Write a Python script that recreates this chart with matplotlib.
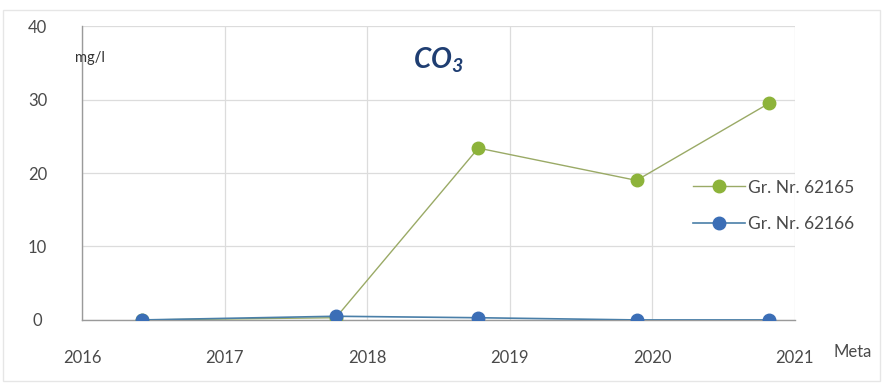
import numpy as np
import matplotlib
matplotlib.use("Agg")
import matplotlib.pyplot as plt

# sampling dates (decimal years) and CO3 concentration, mg/l
years = [2016.42, 2017.78, 2018.78, 2019.89, 2020.82]
gr_62165 = [0.0, 0.3, 23.4, 19.0, 29.5]
gr_62166 = [0.0, 0.5, 0.3, 0.0, 0.0]
xticks = [2016, 2017, 2018, 2019, 2020, 2021]
yticks = [0, 10, 20, 30, 40]

plt.rcParams['font.family'] = ['Lato', 'DejaVu Sans']
plt.rcParams['mathtext.fontset'] = 'custom'
plt.rcParams['mathtext.bfit'] = 'Lato:italic:bold'
plt.rcParams['mathtext.it'] = 'Lato:italic'
plt.rcParams['mathtext.rm'] = 'Lato'

green = '#8db33a'
blue = '#3b6eb6'
text_col = '#4a4a4a'

fig = plt.figure(figsize=(8.83, 3.85), dpi=100)
ax = fig.add_axes([0.093, 0.169, 0.807, 0.763])

ax.plot(years, gr_62165, color='#9aaa66', lw=1.0, marker='o', ms=9,
        mfc=green, mec=green, label='Gr. Nr. 62165', zorder=3)
ax.plot(years, gr_62166, color='#4a7fa8', lw=1.2, marker='o', ms=9,
        mfc=blue, mec=blue, label='Gr. Nr. 62166', zorder=4)

ax.set_xlim(2016, 2021)
ax.set_ylim(0, 40)
ax.set_xticks(xticks)
ax.set_yticks(yticks)
ax.grid(True, color='#dcdcdc', lw=0.9)
ax.set_axisbelow(True)
for s in ['top', 'right']:
    ax.spines[s].set_visible(False)
for s in ['left', 'bottom']:
    ax.spines[s].set_color('#9a9a9a')
    ax.spines[s].set_linewidth(1.0)
ax.tick_params(length=0, labelsize=12, colors=text_col)
ax.tick_params(axis='x', pad=22)
ax.tick_params(axis='y', pad=32)
for lab in ax.get_yticklabels():
    lab.set_horizontalalignment('center')

ax.text(-0.01, 0.89, 'mg/l', transform=ax.transAxes, fontsize=10.5,
        color='#333333', ha='left', va='center')
ax.text(0.5, 0.885, r'$\mathbfit{CO_3}$', transform=ax.transAxes,
        fontsize=20, color='#1f3e72', ha='center', va='center')
ax.text(1.054, -0.11, 'Meta', transform=ax.transAxes, fontsize=12,
        color=text_col, ha='left', va='center', clip_on=False)

leg = ax.legend(loc='center left', bbox_to_anchor=(0.845, 0.388), frameon=False,
                fontsize=12.5, labelcolor=text_col, handlelength=3.0,
                labelspacing=1.2, handletextpad=0.15, borderpad=0)

# faint outer border
fig.patches.append(plt.Rectangle((0.003, 0.01), 0.994, 0.965, transform=fig.transFigure,
                                 fill=False, ec='#e6e6e6', lw=1.0))

fig.savefig('out.png', dpi=100, facecolor='white')
